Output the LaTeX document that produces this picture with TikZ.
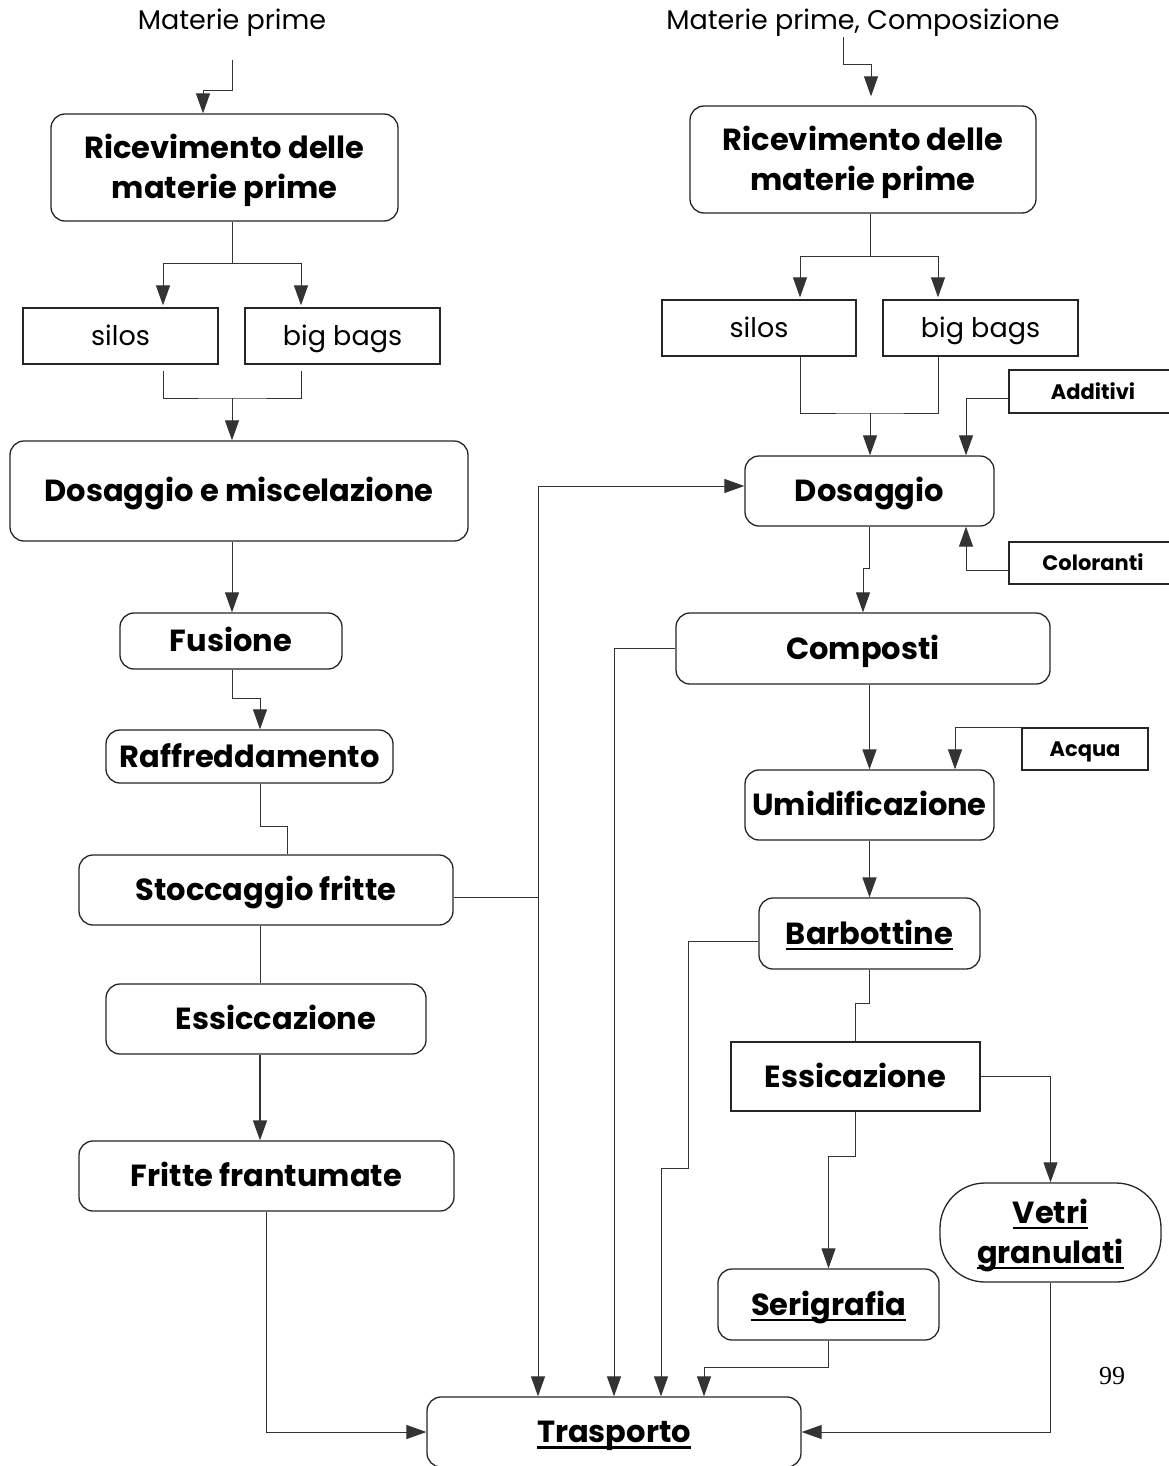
\documentclass[tikz,border=0pt]{standalone}
\usepackage{fontspec}
\setmainfont{Poppins}
\newfontfamily\pagefont{Liberation Serif}
\usepackage{tikz}
\usetikzlibrary{arrows.meta}
\usetikzlibrary{calc}

\newcommand{\ulbar}[1]{\setbox0\hbox{#1}\leavevmode\rlap{\rule[-6pt]{\wd0}{2.6pt}}\box0}

\begin{document}
\begin{tikzpicture}[x=1pt,y=-1pt,
  box/.style={draw=black!85,line width=1.3pt,rounded corners=14pt,inner sep=0pt,
    align=center,text height=21.5pt,text depth=0pt,font=\bfseries\fontsize{30.5}{40}\selectfont},
  twoline/.style={text height=61.5pt},
  bin/.style={draw=black!85,line width=1.3pt,inner sep=0pt,text height=19pt,text depth=0pt,
    font=\fontsize{27}{30}\selectfont},
  feed/.style={draw=black!85,line width=1.3pt,inner sep=0pt,text height=15pt,text depth=0pt,
    font=\bfseries\fontsize{21}{24}\selectfont},
  link/.style={draw=black!80,line width=1pt},
  flow/.style={link,-{Triangle[width=14pt,length=20pt]}}]

  \path[fill=white,use as bounding box] (0,0) rectangle (1169,1466);

  % frits line (left)
  \begin{scope}
    \node[font=\fontsize{27}{30}\selectfont,text height=19pt,text depth=0pt] (mp1) at (232,20) {Materie prime};
    \node[box,twoline,minimum width=347pt,minimum height=107pt] (r1) at (224.5,167.5) {Ricevimento delle\\materie prime};
    \node[bin,minimum width=195pt,minimum height=56pt] (silos1) at (120.5,336) {silos};
    \node[bin,minimum width=195pt,minimum height=56pt] (bags1) at (342.5,336) {big bags};
    \node[box,minimum width=458pt,minimum height=100pt] (dm) at (239,491) {Dosaggio e miscelazione};
    \node[box,minimum width=222pt,minimum height=56pt] (fus) at (231,641) {Fusione};
    \node[box,minimum width=287pt,minimum height=53pt] (raf) at (249.5,756.5) {Raffreddamento};
    \node[box,minimum width=374pt,minimum height=70pt] (sto) at (266,890) {Stoccaggio fritte};
    \node[box,minimum width=320pt,minimum height=70pt] (ess) at (266,1019) {\hspace{20pt}Essiccazione};
    \node[box,minimum width=375pt,minimum height=70pt] (fri) at (266.5,1176) {Fritte frantumate};

    \coordinate (j1) at (232,263);
    \coordinate (j2) at (232,398);
    \draw[flow] ([yshift=-27pt]mp1.south) -- ++(0,30) -| ([xshift=-21.5pt]r1.north);
    \draw[link] ([xshift=7.5pt]r1.south) -- (j1);
    \draw[flow] (j1) -| ([xshift=42.5pt,yshift=2pt]silos1.north);
    \draw[flow] (j1) -| ([xshift=-41.5pt,yshift=2pt]bags1.north);
    \draw[link] ([xshift=42.5pt,yshift=-6pt]silos1.south) |- (j2) -| ([xshift=-41.5pt,yshift=-6pt]bags1.south);
    \draw[flow] (j2) -- (j2 |- dm.north);
    \draw[flow] (j2 |- dm.south) -- (j2 |- fus.north);
    \draw[flow] ([xshift=1pt]fus.south) -- ++(0,29) -| ([xshift=10.5pt]raf.north);
    \draw[link] ([xshift=10.5pt]raf.south) -- ++(0,43) -| ([xshift=21pt]sto.north);
    \draw[link] ([xshift=-6pt]sto.south) -- ([xshift=-6pt]ess.north);
    \draw[flow,line width=1.5pt] ([xshift=-6pt]ess.south) -- ([xshift=-6.5pt]fri.north);
  \end{scope}

  % glazes line (right)
  \begin{scope}
    \node[font=\fontsize{27}{30}\selectfont,text height=19pt,text depth=0pt] (mp2) at (863,20) {Materie prime, Composizione};
    \node[box,twoline,minimum width=346pt,minimum height=107pt] (r2) at (863,159.5) {Ricevimento delle\\materie prime};
    \node[bin,minimum width=194pt,minimum height=56pt] (silos2) at (759,328) {silos};
    \node[bin,minimum width=195pt,minimum height=56pt] (bags2) at (980.5,328) {big bags};
    \node[feed,minimum width=168pt,minimum height=43pt] (add) at (1093,391.5) {Additivi};
    \node[box,minimum width=249pt,minimum height=70pt] (dos) at (869.5,491) {Dosaggio};
    \node[feed,minimum width=168pt,minimum height=42pt] (col) at (1093,563) {Coloranti};
    \node[box,minimum width=374pt,minimum height=71pt] (comp) at (863,648.5) {Composti};
    \node[feed,minimum width=126pt,minimum height=42pt] (acq) at (1085,749) {Acqua};
    \node[box,minimum width=249pt,minimum height=70pt] (umi) at (869.5,805) {Umidificazione};
    \node[box,minimum width=221pt,minimum height=71pt] (bar) at (869.5,933.5) {\ulbar{Barbottine}};
    \node[box,rounded corners=0pt,minimum width=249pt,minimum height=69pt] (essi) at (855.5,1076.5) {Essicazione};
    \node[box,twoline,rounded corners=45pt,minimum width=221pt,minimum height=99pt] (vet) at (1050.5,1232.5) {\ulbar{Vetri}\\\ulbar{granulati}};
    \node[box,minimum width=221pt,minimum height=71pt] (ser) at (828.5,1304.5) {\ulbar{Serigrafia}};

    \coordinate (j4) at (870,256);
    \coordinate (j5) at (870,413);
    \draw[flow] ([xshift=-20pt,yshift=-4pt]mp2.south) -- ++(0,27) -| ([xshift=8pt,yshift=9pt]r2.north);
    \draw[link] ([xshift=7pt]r2.south) -- (j4);
    \draw[flow] (j4) -| ([xshift=41pt,yshift=2pt]silos2.north);
    \draw[flow] (j4) -| ([xshift=-42.5pt,yshift=2pt]bags2.north);
    \draw[link] ([xshift=41pt]silos2.south) |- (j5) -| ([xshift=-42.5pt]bags2.south);
    \draw[flow] (j5) -- (j5 |- dos.north);
    \draw[flow] ([yshift=-6.5pt]add.west) -| ([xshift=96.5pt]dos.north);
    \draw[flow] ([yshift=-7pt]col.west) -| ([xshift=96.5pt]dos.south);
    \draw[flow] (dos.south) -- ++(0,42) -| (comp.north);
    \draw[flow,line width=1.6pt] (comp.south -| umi.north) -- (umi.north);
    \draw[flow] (acq.north west) -| ([xshift=85.5pt]umi.north);
    \draw[flow,line width=1.6pt] (umi.south) -- (bar.north);
    \draw[link] (bar.south) -- ++(0,34) -| (essi.north);
    \draw[flow] (essi.east) -| (vet.north);
    \draw[flow] (essi.south) -- ++(0,45) -| (ser.north);
  \end{scope}

  % transport
  \node[box,minimum width=374pt,minimum height=70pt] (tra) at (614,1432) {\ulbar{Trasporto}};
  \node[font=\pagefont\fontsize{26}{30}\selectfont] (pg) at (1112,1376) {99};

  \coordinate (j3) at (538,897);
  \coordinate (j6) at (661,1168);
  \draw[link] ([yshift=-7pt]sto.east) -- (j3);
  \draw[flow] (j3) |- ([yshift=5pt]dos.west);
  \draw[flow] (j3) -- (j3 |- tra.north);
  \draw[flow] (fri.south) |- (tra.west);
  \draw[flow] (comp.west) -| (tra.north);
  \draw[flow] ([yshift=-7.5pt]bar.west) -- ++(-70,0) |- (j6) -- (j6 |- tra.north);
  \draw[flow] (ser.south) -- ++(0,27) -| ([xshift=90pt]tra.north);
  \draw[flow] (vet.south) |- (tra.east);

\end{tikzpicture}
\end{document}
